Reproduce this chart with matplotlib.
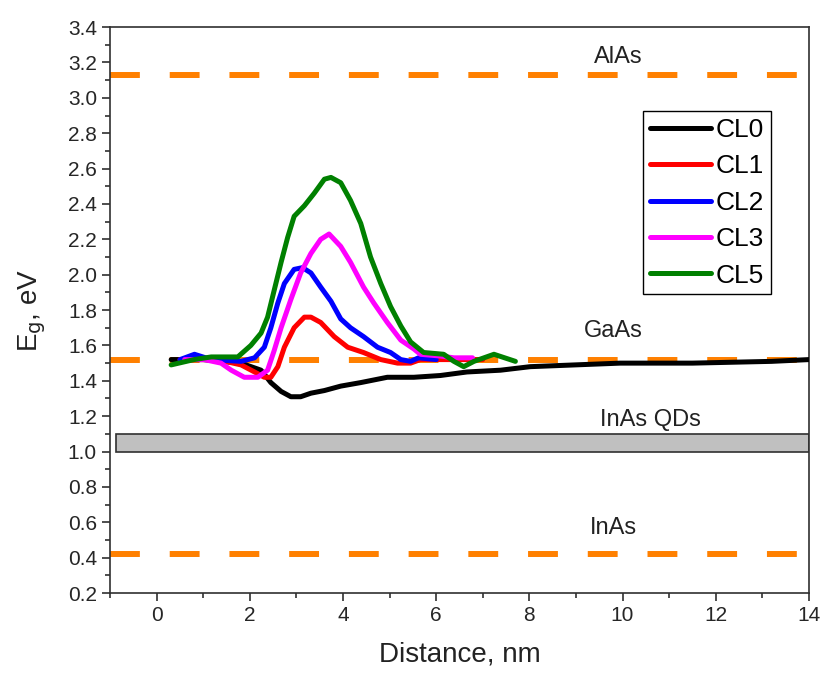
import numpy as np
import matplotlib
matplotlib.use('Agg')
import matplotlib.pyplot as plt
from matplotlib.patches import Rectangle
from matplotlib.ticker import MultipleLocator, FormatStrFormatter

plt.rcParams['font.family'] = ['Liberation Sans', 'DejaVu Sans']

# Band gap profiles along the growth direction
x_cl0 = [0.31, 1.0, 1.81, 2.24, 2.45, 2.67, 2.88, 3.09, 3.31, 3.6, 3.95, 4.38, 4.95, 5.52, 6.09,
         6.66, 7.38, 8.02, 9.95, 11.5, 13.2, 14.0]
y_cl0 = [1.52, 1.52, 1.50, 1.46, 1.39, 1.34, 1.31, 1.31, 1.33, 1.345, 1.37, 1.39, 1.42, 1.42, 1.43,
         1.45, 1.46, 1.48, 1.50, 1.50, 1.51, 1.52]

x_cl1 = [0.5, 0.81, 1.3, 1.81, 2.10, 2.31, 2.45, 2.60, 2.74, 2.95, 3.17, 3.31, 3.52, 3.81, 4.10,
         4.44, 4.81, 5.17, 5.45, 5.66, 6.3, 7.0]
y_cl1 = [1.52, 1.52, 1.52, 1.49, 1.45, 1.42, 1.42, 1.48, 1.59, 1.70, 1.76, 1.76, 1.73, 1.65, 1.59,
         1.56, 1.52, 1.50, 1.50, 1.52, 1.52, 1.52]

x_cl2 = [0.5, 0.81, 1.17, 1.81, 2.10, 2.31, 2.45, 2.60, 2.74, 2.95, 3.13, 3.31, 3.52, 3.74, 3.95,
         4.16, 4.44, 4.74, 5.02, 5.24, 5.45, 5.62, 6.0]
y_cl2 = [1.52, 1.55, 1.52, 1.51, 1.53, 1.59, 1.70, 1.84, 1.95, 2.03, 2.04, 2.01, 1.93, 1.85, 1.75,
         1.70, 1.65, 1.59, 1.56, 1.52, 1.51, 1.53, 1.52]

x_cl3 = [0.6, 1.02, 1.38, 1.60, 1.88, 2.17, 2.38, 2.52, 2.67, 2.88, 3.09, 3.31, 3.52, 3.70, 3.95,
         4.16, 4.44, 4.66, 4.95, 5.24, 5.52, 5.66, 6.09, 6.38, 6.78]
y_cl3 = [1.52, 1.52, 1.50, 1.46, 1.42, 1.42, 1.46, 1.57, 1.70, 1.86, 2.01, 2.12, 2.20, 2.23, 2.16,
         2.07, 1.93, 1.84, 1.73, 1.63, 1.58, 1.55, 1.54, 1.53, 1.53]

x_cl5 = [0.31, 0.8, 1.17, 1.74, 2.02, 2.24, 2.38, 2.52, 2.67, 2.81, 2.95, 3.17, 3.38, 3.60, 3.74,
         3.95, 4.16, 4.38, 4.59, 4.81, 5.02, 5.24, 5.45, 5.73, 6.16, 6.38, 6.59, 6.81, 7.24, 7.7]
y_cl5 = [1.49, 1.52, 1.535, 1.535, 1.60, 1.67, 1.76, 1.91, 2.07, 2.21, 2.33, 2.39, 2.46, 2.54, 2.55,
         2.52, 2.42, 2.29, 2.10, 1.95, 1.82, 1.71, 1.62, 1.56, 1.55, 1.51, 1.48, 1.51, 1.55, 1.51]

# Reference band gaps of the bulk materials, eV
eg_alas = 3.13
eg_gaas = 1.52
eg_inas = 0.42
qd_band = (1.0, 1.1)
qd_x = (-0.88, 14.0)

fig = plt.figure(figsize=(8.22, 6.77), dpi=100)
ax = fig.add_axes([0.134, 0.124, 0.850, 0.836])

orange = '#ff8000'
for eg in [eg_alas, eg_gaas, eg_inas]:
    ax.axhline(eg, color=orange, lw=4.3, dashes=(5, 5), dash_capstyle='butt', zorder=1)

ax.add_patch(Rectangle((qd_x[0], qd_band[0]), qd_x[1] - qd_x[0], qd_band[1] - qd_band[0],
                       facecolor='#c0c0c0', edgecolor='#303030', lw=1.2, zorder=2))

lw = 3.6
curves = [(x_cl0, y_cl0, 'black', 'CL0'),
          (x_cl1, y_cl1, '#ff0000', 'CL1'),
          (x_cl2, y_cl2, '#0000ff', 'CL2'),
          (x_cl3, y_cl3, '#ff00ff', 'CL3'),
          (x_cl5, y_cl5, '#008000', 'CL5')]
for xs, ys, c, name in curves:
    ax.plot(xs, ys, color=c, lw=lw, label=name, zorder=3,
            solid_joinstyle='round', solid_capstyle='round')

txt = dict(fontsize=17, ha='center', va='center', color='#222222')
ax.text(9.9, 3.23, 'AlAs', **txt)
ax.text(9.8, 1.68, 'GaAs', **txt)
ax.text(10.6, 1.18, 'InAs QDs', **txt)
ax.text(9.8, 0.57, 'InAs', **txt)

ax.set_xlim(-1, 14)
ax.set_ylim(0.2, 3.4)
ax.xaxis.set_major_locator(MultipleLocator(2))
ax.xaxis.set_minor_locator(MultipleLocator(1))
ax.yaxis.set_major_locator(MultipleLocator(0.2))
ax.yaxis.set_minor_locator(MultipleLocator(0.1))
ax.yaxis.set_major_formatter(FormatStrFormatter('%.1f'))
ax.tick_params(which='major', direction='out', length=6, width=1.2, labelsize=15,
               labelcolor='#262626', color='#303030')
ax.tick_params(which='minor', direction='out', length=3.5, width=1.2, color='#303030')
for s in ax.spines.values():
    s.set_linewidth(1.2)
    s.set_color('#303030')

ax.set_xlabel('Distance, nm', fontsize=20, color='#222222', labelpad=12)
ax.set_ylabel(r'E$_\mathrm{g}$, eV', fontsize=20, color='#222222', labelpad=14)

leg = ax.legend(loc='upper left', bbox_to_anchor=(0.763, 0.851), fontsize=19,
                frameon=True, fancybox=False, edgecolor='black', framealpha=1,
                handlelength=2.3, handletextpad=0.2, labelspacing=0.47, borderpad=0.25,
                borderaxespad=0)
leg.get_frame().set_linewidth(1.0)

fig.savefig('out.png', dpi=100)
